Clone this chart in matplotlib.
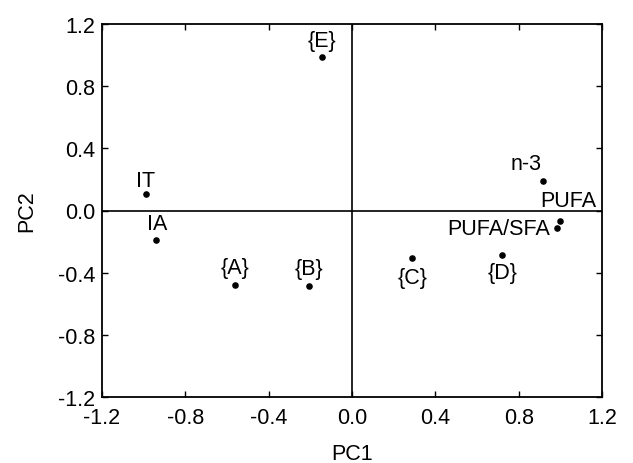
import matplotlib.pyplot as plt
import numpy as np

# PCA loadings / scores
labels = ['{E}', 'IT', 'IA', '{A}', '{B}', '{C}', '{D}', 'n-3', 'PUFA', 'PUFA/SFA']
pc1 = [-0.144, -0.989, -0.941, -0.562, -0.206, 0.290, 0.722, 0.915, 0.998, 0.984]
pc2 = [0.988, 0.106, -0.190, -0.479, -0.486, -0.308, -0.288, 0.192, -0.066, -0.113]

# label offsets (points) and alignment
offsets = [(0, 4), (0, 2), (1, 4), (0, 5), (0, 5), (0, -6), (0, -5),
           (-1, 5), (-14, 7), (-5, 0)]
aligns = [('center', 'bottom'), ('center', 'bottom'), ('center', 'bottom'),
          ('center', 'bottom'), ('center', 'bottom'), ('center', 'top'),
          ('center', 'top'), ('right', 'bottom'), ('left', 'bottom'),
          ('right', 'center')]

plt.rcParams['font.family'] = ['Liberation Sans', 'DejaVu Sans']

fig = plt.figure(figsize=(6.33, 4.64), dpi=100)
ax = fig.add_axes([102 / 633, 66 / 464, 500 / 633, 373 / 464])

ax.axhline(0, color='black', lw=1.2, zorder=1)
ax.axvline(0, color='black', lw=1.2, zorder=1)
ax.scatter(pc1, pc2, s=14, color='black', zorder=3)

for lab, x, y, off, (ha, va) in zip(labels, pc1, pc2, offsets, aligns):
    ax.annotate(lab, (x, y), xytext=off, textcoords='offset points',
                ha=ha, va=va, fontsize=15.5)

ticks = np.arange(-1.2, 1.21, 0.4)
ticklabels = [f"{t:.1f}" if abs(t) > 1e-9 else "0.0" for t in ticks]
ax.set_xlim(-1.2, 1.2)
ax.set_ylim(-1.2, 1.2)
ax.set_xticks(ticks)
ax.set_yticks(ticks)
ax.set_xticklabels(ticklabels)
ax.set_yticklabels(ticklabels)
ax.tick_params(direction='in', top=True, right=True, length=4, width=1,
               labelsize=15.5, labeltop=False, labelright=False)
ax.tick_params(axis='x', pad=7)
ax.tick_params(axis='y', pad=5)
for sp in ax.spines.values():
    sp.set_linewidth(1.3)

ax.set_xlabel("PC1", fontsize=15.5, labelpad=11)
ax.set_ylabel("PC2", fontsize=15.5, labelpad=15)

fig.savefig("out.png", dpi=100)
